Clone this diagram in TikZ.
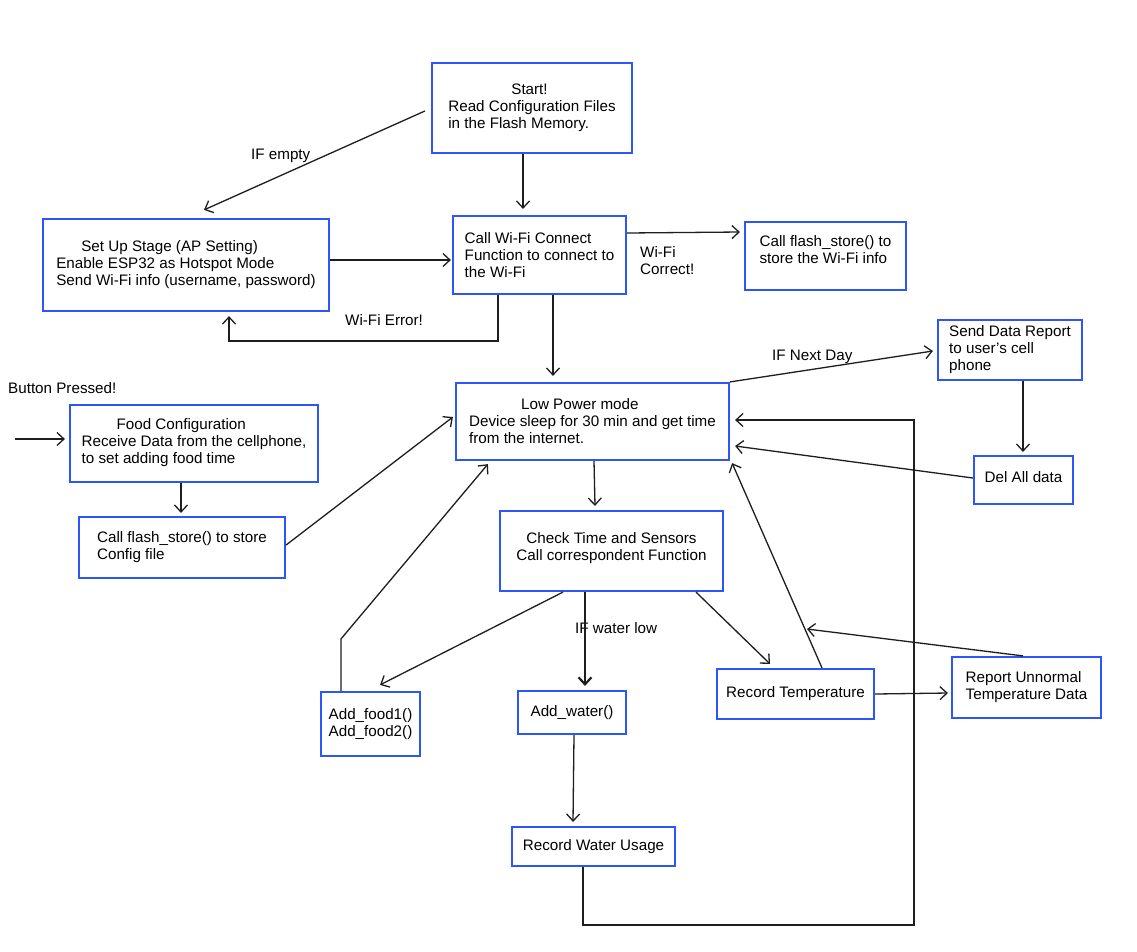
\documentclass[tikz,border=0pt]{standalone}
\usepackage{fontspec}
\setmainfont{Liberation Sans}
\usetikzlibrary{arrows.meta}
\definecolor{boxblue}{RGB}{45,85,250}
\definecolor{lin}{RGB}{30,30,30}
\begin{document}
\begin{tikzpicture}[x=1pt,y=-1pt,
  font=\fontsize{15.2}{17}\selectfont,
  box/.style={draw=boxblue,line width=2.2pt,rectangle,inner sep=1pt,align=left},
  conn/.style={draw=lin,line width=1.3pt},
  arr/.style={conn,-{Straight Barb[length=7pt,width=13pt]}},
  lbl/.style={inner sep=0pt,anchor=west,align=left}]
\useasboundingbox[fill=white] (0,0) rectangle (1137,951);

% boxes
\node[box,minimum width=200,minimum height=90] (start) at (532,108)
  {\hspace*{63pt}Start!\\Read Configuration Files\\in the Flash Memory.};
\node[box,minimum width=286,minimum height=92] (setup) at (186,265)
  {\hspace*{25pt}Set Up Stage (AP Setting)\\Enable ESP32 as Hotspot Mode\\Send Wi-Fi info (username, password)};
\node[box,minimum width=173,minimum height=78] (wifi) at (539.5,255)
  {Call Wi-Fi Connect\\Function to connect to\\the Wi-Fi};
\node[box,minimum width=161,minimum height=68] (fw) at (825.5,256)
  {Call flash\_store() to\\store the Wi-Fi info\\[-4pt]};
\node[box,minimum width=144,minimum height=60] (send) at (1010,350)
  {Send Data Report\\to user's cell\\phone};
\node[box,minimum width=273,minimum height=77] (low) at (592.5,421.5)
  {\hspace*{52pt}Low Power mode\\Device sleep for 30 min and get time\\from the internet.};
\node[box,minimum width=99,minimum height=48] (del) at (1023.5,480)
  {Del All data\\[-11pt]};
\node[box,minimum width=248,minimum height=77] (food) at (194,443.5)
  {\hspace*{35pt}Food Configuration\\Receive Data from the cellphone,\\to set adding food time\\[-11pt]};
\node[box,minimum width=206,minimum height=61] (fc) at (182,547.5)
  {Call flash\_store() to store\\Config file};
\node[box,minimum width=223,minimum height=80,align=center] (check) at (611.5,551)
  {Check Time and Sensors\\Call correspondent Function\\[-8pt]};
\node[box,minimum width=99,minimum height=64] (af) at (370.5,724)
  {Add\_food1()\\Add\_food2()};
\node[box,minimum width=108,minimum height=43] (aw) at (572,712.5)
  {Add\_water()};
\node[box,minimum width=157,minimum height=50] (rt) at (795.5,694)
  {Record Temperature};
\node[box,minimum width=149,minimum height=61] (ru) at (1026.5,687.5)
  {Report Unnormal\\Temperature Data};
\node[box,minimum width=163,minimum height=39] (rw) at (593.5,846.5)
  {Record Water Usage};

% free points
\coordinate (btn) at (15,439);
\coordinate (loopc) at (914,925);
\coordinate (rtl) at (807,629);

% labels
\node[lbl] (lempty) at (251,156) {IF empty};
\node[lbl] (lerr) at (345,320) {Wi-Fi Error!};
\node[lbl] (lok) at (640,261) {Wi-Fi\\Correct!};
\node[lbl] (lnext) at (772,357) {IF Next Day};
\node[lbl] (lbtn) at (8,388) {Button Pressed!};
\node[lbl] (lwater) at (575,628) {IF water low};

% connectors
\draw[arr] ([shift={(-6,3)}]start.west) -- ([shift={(18,-8)}]setup.north);
\draw[arr] ([shift={(-9,0)}]start.south) -- ([shift={(-16.5,-6)}]wifi.north);
\draw[arr] ([shift={(0,-5)}]setup.east) -- ([shift={(-1,5)}]wifi.west);
\draw[arr] ([shift={(-41.5,0)}]wifi.south) -- ++(0,46) -| ([shift={(43,4)}]setup.south);
\draw[arr] ([shift={(0,-22)}]wifi.east) -- ([shift={(-4,-24)}]fw.west);
\draw[arr] ([shift={(13.5,0)}]wifi.south) -- ([shift={(-39.5,-6)}]low.north);
\draw[arr] (low.north east) -- ([shift={(-4,1)}]send.west);
\draw[arr] ([shift={(13,0)}]send.south) -- ([shift={(-0.5,-3)}]del.north);
\draw[arr] ([shift={(0,-2)}]del.west) -- ([shift={(5,24.5)}]low.east);
\draw[arr] ([shift={(-10.5,0)}]rw.south) |- (loopc) |- ([shift={(5,-1.5)}]low.east);
\draw[arr] (btn) -- ([shift={(-4,-4.5)}]food.west);
\draw[arr] ([shift={(-13,0)}]food.south) -- ([shift={(-1,-3)}]fc.north);
\draw[arr] ([shift={(0,-2.5)}]fc.east) -- ([shift={(-2,-4.5)}]low.west);
\draw[arr] ([shift={(-29.5,0)}]af.north) -- ++(0,-52) -- ([shift={(33,3)}]low.south west);
\draw[arr] ([shift={(1.5,0)}]low.south) -- ([shift={(-16.5,-4)}]check.north);
\draw[arr] ([shift={(-48.5,0)}]check.south) -- ([shift={(9.5,-6)}]af.north);
\draw[arr,line width=2.2pt] ([shift={(-26.5,0)}]check.south) -- ([shift={(13,-4)}]aw.north);
\draw[arr] ([shift={(84.5,0)}]check.south) -- ([shift={(-25.5,-4)}]rt.north);
\draw[arr] ([shift={(26.5,0)}]rt.north) -- ([shift={(2,2)}]low.south east);
\draw[arr] ([shift={(-3.5,0)}]ru.north) -- (rtl);
\draw[arr] (rt.east) -- ([shift={(-3,5.5)}]ru.west);
\draw[arr] ([shift={(2,0)}]aw.south) -- ([shift={(-20.5,-4)}]rw.north);
\end{tikzpicture}
\end{document}
